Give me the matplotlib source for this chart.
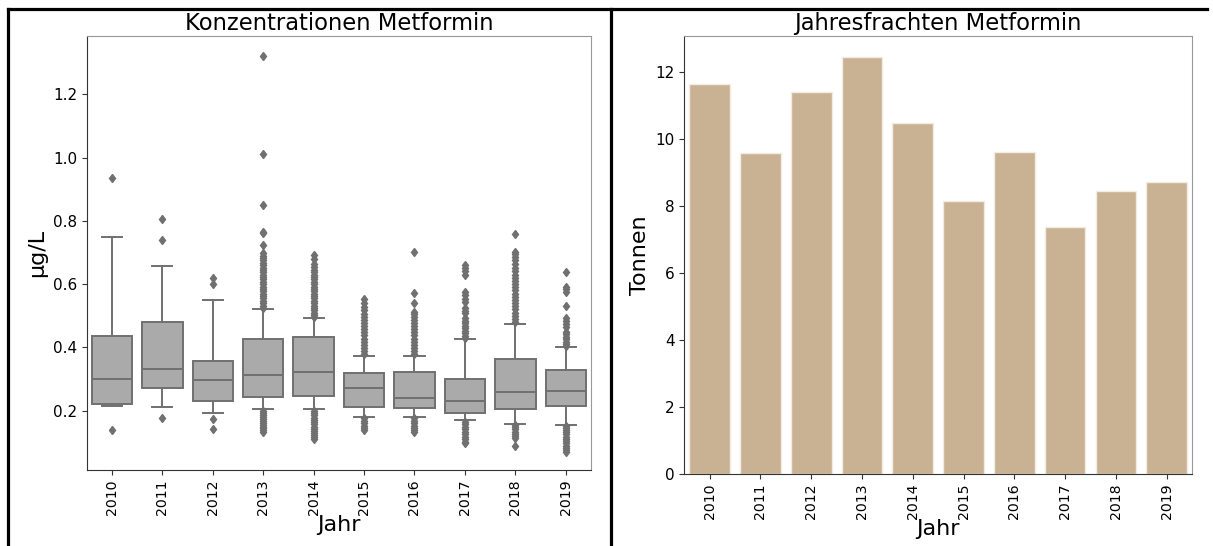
import matplotlib
matplotlib.use("Agg")
import matplotlib.pyplot as plt
from matplotlib.lines import Line2D

# Jahre
jahre = ["2010", "2011", "2012", "2013", "2014", "2015", "2016", "2017", "2018", "2019"]

# Boxplot-Kennwerte (µg/L)
q1 = [0.222, 0.271, 0.231, 0.242, 0.246, 0.213, 0.209, 0.192, 0.204, 0.214]
median = [0.301, 0.332, 0.297, 0.312, 0.321, 0.272, 0.241, 0.230, 0.260, 0.263]
q3 = [0.435, 0.481, 0.358, 0.426, 0.434, 0.318, 0.321, 0.301, 0.363, 0.329]
whis_lo = [0.214, 0.213, 0.194, 0.205, 0.205, 0.181, 0.181, 0.171, 0.159, 0.156]
whis_hi = [0.749, 0.656, 0.549, 0.520, 0.492, 0.373, 0.373, 0.426, 0.474, 0.401]

# Ausreisser
fliers = [
    [0.935, 0.139],
    [0.807, 0.740, 0.178],
    [0.620, 0.600, 0.173, 0.143],
    [1.322, 1.012, 0.849, 0.766, 0.760, 0.724, 0.697, 0.690, 0.682, 0.675, 0.668,
     0.660, 0.652, 0.645, 0.637, 0.630, 0.622, 0.615, 0.607, 0.600, 0.592, 0.585,
     0.577, 0.570, 0.562, 0.555, 0.547, 0.540, 0.532, 0.525,
     0.198, 0.192, 0.186, 0.180, 0.174, 0.168, 0.162, 0.156, 0.150, 0.144, 0.138, 0.132],
    [0.692, 0.678, 0.665, 0.655, 0.645, 0.638, 0.630, 0.622, 0.615, 0.607, 0.600,
     0.592, 0.585, 0.577, 0.570, 0.562, 0.555, 0.547, 0.540, 0.532, 0.525, 0.517,
     0.510, 0.502, 0.496,
     0.199, 0.192, 0.185, 0.178, 0.171, 0.164, 0.157, 0.150, 0.143, 0.136, 0.129,
     0.122, 0.116, 0.110],
    [0.552, 0.540, 0.528, 0.518, 0.505, 0.495, 0.487, 0.478, 0.468, 0.458, 0.448,
     0.438, 0.428, 0.418, 0.408, 0.398, 0.388, 0.380,
     0.176, 0.168, 0.160, 0.152, 0.145, 0.138],
    [0.703, 0.571, 0.539, 0.513, 0.505, 0.497, 0.488, 0.478, 0.468, 0.458, 0.448,
     0.438, 0.428, 0.418, 0.408, 0.398, 0.388, 0.378,
     0.176, 0.168, 0.160, 0.152, 0.145, 0.138, 0.133],
    [0.660, 0.650, 0.640, 0.629, 0.576, 0.565, 0.553, 0.545, 0.524, 0.516, 0.508,
     0.492, 0.484, 0.476, 0.468, 0.460, 0.452, 0.444, 0.436, 0.429,
     0.165, 0.157, 0.149, 0.141, 0.133, 0.125, 0.117, 0.109, 0.101, 0.097],
    [0.758, 0.703, 0.695, 0.686, 0.676, 0.665, 0.652, 0.640, 0.630, 0.620, 0.610,
     0.600, 0.590, 0.580, 0.570, 0.560, 0.550, 0.540, 0.530, 0.520, 0.510, 0.500,
     0.490, 0.480,
     0.155, 0.148, 0.141, 0.134, 0.127, 0.120, 0.113, 0.088],
    [0.637, 0.592, 0.584, 0.576, 0.532, 0.492, 0.483, 0.474, 0.466, 0.450, 0.442,
     0.434, 0.426, 0.418, 0.410, 0.404,
     0.153, 0.146, 0.139, 0.132, 0.125, 0.118, 0.111, 0.104, 0.097, 0.090, 0.083,
     0.076, 0.070],
]

# Jahresfrachten (Tonnen)
frachten = [11.65, 9.59, 11.41, 12.45, 10.47, 8.16, 9.60, 7.36, 8.45, 8.72]

box_face = "#aaaaaa"
box_line = "#707070"
bar_color = "#c8b293"

fig = plt.figure(figsize=(12.13, 5.46), dpi=100)
ax1 = fig.add_axes([0.0715, 0.1392, 0.4157, 0.7954])
ax2 = fig.add_axes([0.5641, 0.1319, 0.4186, 0.8022])

# Linkes Diagramm: Boxplots
stats = []
for i in range(len(jahre)):
    stats.append({"med": median[i], "q1": q1[i], "q3": q3[i],
                  "whislo": whis_lo[i], "whishi": whis_hi[i],
                  "fliers": fliers[i], "label": jahre[i]})
ax1.bxp(stats, positions=range(len(jahre)), widths=0.8, patch_artist=True,
        boxprops=dict(facecolor=box_face, edgecolor=box_line, linewidth=1.4),
        medianprops=dict(color=box_line, linewidth=1.4),
        whiskerprops=dict(color=box_line, linewidth=1.4),
        capprops=dict(color=box_line, linewidth=1.4),
        capwidths=0.4,
        flierprops=dict(marker="d", markersize=4.5, markerfacecolor=box_line,
                        markeredgecolor=box_line, linestyle="none"))
ax1.set_xlim(-0.5, len(jahre) - 0.5)
ax1.set_ylim(0.0126, 1.385)
ax1.set_yticks([0.2, 0.4, 0.6, 0.8, 1.0, 1.2])
ax1.set_xticks(range(len(jahre)))
ax1.set_xticklabels(jahre, rotation=90)
ax1.set_title("Konzentrationen Metformin", fontsize=16.3, pad=4)
ax1.set_ylabel("µg/L", fontsize=16)
ax1.set_xlabel("Jahr", fontsize=16, labelpad=0)

# Rechtes Diagramm: Balken
ax2.bar(range(len(jahre)), frachten, width=0.8, color=bar_color,
        edgecolor="#f3ece2", linewidth=1)
ax2.set_xlim(-0.5, len(jahre) - 0.5)
ax2.set_ylim(0, 13.07)
ax2.set_yticks([0, 2, 4, 6, 8, 10, 12])
ax2.set_xticks(range(len(jahre)))
ax2.set_xticklabels(jahre, rotation=90)
ax2.set_title("Jahresfrachten Metformin", fontsize=16.3, pad=4)
ax2.set_ylabel("Tonnen", fontsize=16)
ax2.set_xlabel("Jahr", fontsize=16, labelpad=0)

for ax in (ax1, ax2):
    ax.tick_params(axis="y", labelsize=11, length=3.5, color="#333333")
    ax.tick_params(axis="x", labelsize=10.2, length=3.5, color="#333333")
    ax.spines["left"].set_color("#333333")
    ax.spines["bottom"].set_color("#333333")
    ax.spines["top"].set_color("#999999")
    ax.spines["right"].set_color("#999999")

# Rahmen um die Abbildung
fig.add_artist(Line2D([0.0062, 0.995], [0.9835, 0.9835], color="black", lw=2.3))
fig.add_artist(Line2D([0.0062, 0.0062], [0.0, 0.9835], color="black", lw=2.3))
fig.add_artist(Line2D([0.5035, 0.5035], [0.0, 0.9835], color="black", lw=2.3))

fig.savefig("out.png", dpi=100)
